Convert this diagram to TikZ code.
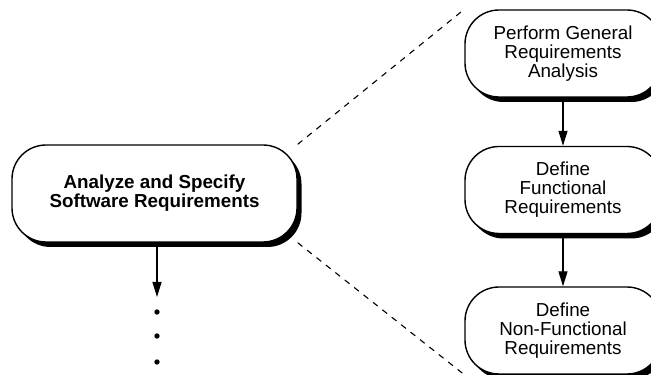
\documentclass[tikz,border=0pt]{standalone}
\usepackage{fontspec}
\setmainfont{Liberation Sans}
\usetikzlibrary{arrows.meta}
\begin{document}
\begin{tikzpicture}[x=1pt,y=1pt,
  procbox/.style={draw=black, line width=1.4pt, fill=white, rounded corners=34pt,
    align=center, inner sep=0pt,
    font=\fontsize{18.8}{19}\selectfont,
    preaction={fill=black, transform canvas={shift={(4.5pt,-5pt)}}}},
  flow/.style={draw=black, line width=1.3pt, -{Triangle[length=15pt,width=9pt]}},
  link/.style={draw=black, line width=1.1pt, dash pattern=on 6pt off 6pt}]
\clip (0,0) rectangle (651,375);
\node[procbox, minimum width=285pt, minimum height=97pt,
  font=\fontsize{18.8}{19}\selectfont\bfseries] (main) at (154.5,181.5)
  {Analyze and Specify\\Software Requirements};
\node[procbox, minimum width=196pt, minimum height=87pt] (r1) at (563,321.5)
  {Perform General\\Requirements\\Analysis};
\node[procbox, minimum width=196pt, minimum height=87pt] (r2) at (563,185)
  {Define\\Functional\\Requirements};
\node[procbox, minimum width=196pt, minimum height=87pt] (r3) at (563,44.5)
  {Define\\Non-Functional\\Requirements};
\coordinate (mainend) at (157,78);
\draw[flow] (main.south -| mainend) -- (mainend);
\fill (157,63) circle (2.7pt);
\fill (157,39) circle (2.7pt);
\fill (157,13) circle (2.7pt);
\draw[flow] (r1.south) -- (r2.north);
\draw[flow] (r2.south) -- (r3.north);
\draw[link] (main.north east) -- (r1.north west);
\draw[link] (main.south east) -- (r3.south west);
\end{tikzpicture}
\end{document}
